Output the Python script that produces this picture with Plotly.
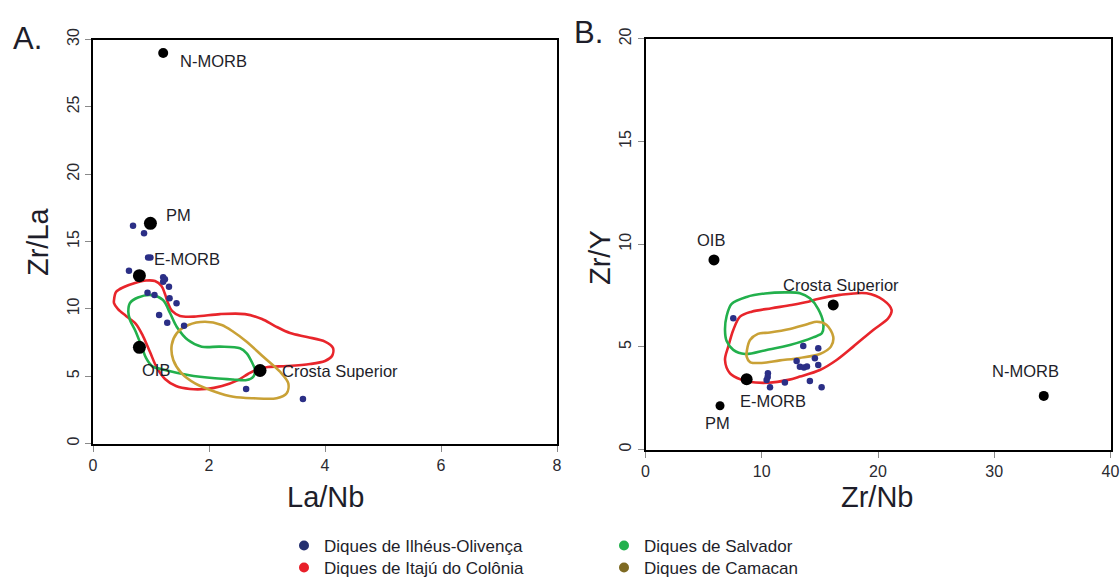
import plotly.graph_objects as go

# ---------------- Panel A: La/Nb vs Zr/La ----------------
ref_names_a = ["N-MORB", "PM", "E-MORB", "OIB", "Crosta Superior"]
ref_lanb = [1.21, 0.99, 0.80, 0.80, 2.88]
ref_zrla = [29.0, 16.35, 12.46, 7.14, 5.42]

ilheus_lanb = [0.69, 0.88, 0.95, 0.99, 0.62, 1.21, 1.21, 1.24, 1.31, 0.94, 1.06, 1.32, 1.44, 1.14, 1.28, 1.57, 2.64, 3.62]
ilheus_zrla = [16.17, 15.61, 13.82, 13.82, 12.83, 12.34, 12.01, 12.2, 11.64, 11.20, 11.02, 10.78, 10.41, 9.54, 8.97, 8.75, 4.05, 3.30]

itaju_a_x = [0.362, 0.397, 0.534, 0.724, 0.914, 1.069, 1.181, 1.241, 1.293, 1.362, 1.500, 1.776, 2.190, 2.621, 2.914, 3.138,
             3.397, 3.690, 4.000, 4.138, 4.121, 4.000, 3.741, 3.345, 3.017, 2.845, 2.672, 2.500, 2.224, 1.948, 1.672, 1.431,
             1.241, 1.103, 0.983, 0.862, 0.741, 0.569, 0.431, 0.362]
itaju_a_y = [10.65, 11.25, 11.62, 11.92, 12.10, 12.06, 11.69, 11.10, 10.43, 9.84, 9.47, 9.43, 9.61, 9.61, 9.24, 8.72,
             8.20, 7.91, 7.57, 7.09, 6.50, 6.13, 5.90, 5.75, 5.68, 5.53, 5.16, 4.71, 4.27, 4.05, 4.05, 4.27,
             4.79, 5.61, 6.79, 7.98, 8.87, 9.47, 9.98, 10.43]

salvador_a_x = [0.638, 0.776, 1.012, 1.207, 1.328, 1.443, 1.638, 1.874, 2.190, 2.534, 2.650, 2.736, 2.793, 2.764, 2.650,
                2.414, 2.103, 1.638, 1.241, 1.017, 0.914, 0.840, 0.724, 0.638, 0.609]
salvador_a_y = [10.43, 10.84, 11.02, 10.65, 9.69, 8.67, 7.68, 7.19, 7.19, 7.07, 6.70, 6.07, 5.45, 4.96, 4.71,
                4.75, 4.84, 5.09, 5.46, 5.75, 6.35, 7.19, 8.43, 9.17, 9.78]

camacan_a_x = [1.357, 1.443, 1.643, 1.931, 2.219, 2.419, 2.650, 2.936, 3.224, 3.367, 3.340, 3.167, 2.764, 2.419, 2.103,
               1.759, 1.529, 1.384]
camacan_a_y = [7.31, 8.18, 8.80, 9.04, 8.80, 8.30, 7.56, 6.44, 5.33, 4.47, 3.73, 3.36, 3.36, 3.47, 3.85,
               4.47, 5.21, 6.20]

# ---------------- Panel B: Zr/Nb vs Zr/Y ----------------
ref_names_b = ["OIB", "Crosta Superior", "E-MORB", "PM", "N-MORB"]
ref_zrnb = [5.89, 16.15, 8.70, 6.41, 34.26]
ref_zry = [9.23, 7.04, 3.42, 2.13, 2.61]

ilheus_zrnb = [7.55, 13.57, 14.86, 13.00, 14.57, 14.86, 13.28, 13.63, 13.89, 10.53, 10.51, 10.42, 11.99, 14.14, 10.71, 15.15]
ilheus_zry = [6.39, 5.04, 4.93, 4.31, 4.44, 4.12, 4.03, 3.99, 4.04, 3.71, 3.53, 3.39, 3.26, 3.34, 3.03, 3.03]

itaju_b_x = [8.27, 7.27, 6.84, 7.12, 7.55, 8.13, 9.13, 10.85, 12.57, 14.00, 14.72, 16.72, 19.02, 20.45, 21.17, 20.88,
             19.59, 17.87, 16.44, 15.00, 13.28, 12.28, 10.56, 8.84]
itaju_b_y = [3.39, 3.71, 4.36, 5.01, 5.82, 6.47, 6.71, 6.88, 7.04, 7.20, 7.32, 7.53, 7.61, 7.28, 6.79, 6.39,
             5.82, 5.01, 4.36, 3.87, 3.55, 3.39, 3.25, 3.30]

salvador_b_x = [6.84, 6.98, 7.41, 8.70, 10.28, 12.28, 13.28, 14.14, 14.86, 15.29, 15.18, 14.43, 12.42, 10.42, 8.56, 7.55, 6.98]
salvador_b_y = [5.82, 6.50, 7.09, 7.43, 7.60, 7.65, 7.61, 7.36, 6.84, 6.16, 5.67, 5.46, 5.09, 4.85, 4.65, 4.85, 5.28]

camacan_b_x = [8.73, 8.99, 9.67, 10.70, 12.42, 13.97, 14.75, 15.58, 16.15, 15.95, 15.00, 13.28, 11.56, 9.85, 8.99, 8.70]
camacan_b_y = [4.85, 5.33, 5.63, 5.70, 5.87, 6.11, 6.22, 6.06, 5.49, 5.01, 4.65, 4.46, 4.34, 4.21, 4.26, 4.52]

# legend entries
legend_names = ["Diques de Ilhéus-Olivença", "Diques de Itajú do Colônia", "Diques de Salvador", "Diques de Camacan"]

# ---------------- styles ----------------
FONT = "Liberation Sans, Arial, sans-serif"
C_BLUE = "#2b2f86"
C_RED = "#e8252b"
C_GREEN = "#22b04c"
C_GOLD = "#c9a136"
LEG_COLORS = ["#253070", "#e8202a", "#23b14d", "#7e6a23"]
LEG_POS = [(284, 546), (284, 568), (604, 546), (604, 568)]  # pixel anchor of each legend entry

ref_sizes_a = [10, 13, 13, 13, 13]
ref_sizes_b = [11, 11, 12, 9, 10]
# label placement offsets (pixels) relative to reference points
lab_a = {"N-MORB": (15, -8, "left"), "PM": (14, 8, "left"), "E-MORB": (13, 17, "left"),
         "OIB": (17, -23, "center"), "Crosta Superior": (20, 0, "left")}
lab_b = {"OIB": (-3, 20, "center"), "Crosta Superior": (-52, 20, "left"), "E-MORB": (-9, -22, "left"),
         "PM": (-3, -17, "center"), "N-MORB": (-18, 25, "center")}


def closed(xs, ys):
    return list(xs) + [xs[0]], list(ys) + [ys[0]]


fig = go.Figure()


def add_panel(xa, ya, rx, ry, rnames, rsizes, labs, bx, by, contours):
    for (cx, cy, col) in contours:
        X, Y = closed(cx, cy)
        fig.add_trace(go.Scatter(x=X, y=Y, mode="lines", xaxis=xa, yaxis=ya,
                                 line=dict(color=col, width=2.6, shape="spline", smoothing=0.9),
                                 showlegend=False, hoverinfo="skip"))
    fig.add_trace(go.Scatter(x=bx, y=by, mode="markers", xaxis=xa, yaxis=ya,
                             marker=dict(color=C_BLUE, size=6.5, opacity=1), showlegend=False))
    fig.add_trace(go.Scatter(x=rx, y=ry, mode="markers", xaxis=xa, yaxis=ya,
                             marker=dict(color="#000000", size=rsizes, opacity=1, line=dict(width=0)),
                             showlegend=False, text=rnames))
    for n, x, y in zip(rnames, rx, ry):
        dx, dy, anc = labs[n]
        fig.add_annotation(x=x, y=y, xref=xa, yref=ya, text=n, showarrow=False,
                           xshift=dx, yshift=dy, xanchor=anc, yanchor="middle",
                           font=dict(family=FONT, size=16.5, color="#1e1e2a"))


add_panel("x", "y", ref_lanb, ref_zrla, ref_names_a, ref_sizes_a, lab_a, ilheus_lanb, ilheus_zrla,
          [(itaju_a_x, itaju_a_y, C_RED), (salvador_a_x, salvador_a_y, C_GREEN), (camacan_a_x, camacan_a_y, C_GOLD)])
add_panel("x2", "y2", ref_zrnb, ref_zry, ref_names_b, ref_sizes_b, lab_b, ilheus_zrnb, ilheus_zry,
          [(itaju_b_x, itaju_b_y, C_RED), (salvador_b_x, salvador_b_y, C_GREEN), (camacan_b_x, camacan_b_y, C_GOLD)])

W, H = 1120, 579

# legend-only traces, one small legend per entry
legend_layouts = {}
for i, (name, col, (lx, ly)) in enumerate(zip(legend_names, LEG_COLORS, LEG_POS)):
    key = "legend" if i == 0 else f"legend{i + 1}"
    fig.add_trace(go.Scatter(x=[None], y=[None], mode="markers", name=name, legend=key,
                             marker=dict(color=col, size=10)))
    legend_layouts[key] = dict(x=lx / W, y=1 - ly / H, xanchor="left", yanchor="middle",
                               bgcolor="rgba(0,0,0,0)", borderwidth=0, itemwidth=30,
                               font=dict(family=FONT, size=17, color="#1e1e2a"))

axis_common = dict(showline=True, mirror=True, linecolor="black", linewidth=2, showgrid=False, zeroline=False,
                   ticks="outside", ticklen=6, tickwidth=1, tickcolor="#8a8a8a",
                   tickfont=dict(family=FONT, size=16, color="#2a2a30"), ticklabelstandoff=0)

fig.update_layout(
    width=W, height=H, margin=dict(l=0, r=0, t=0, b=0, autoexpand=False),
    paper_bgcolor="white", plot_bgcolor="white", showlegend=True,
    xaxis=dict(domain=[93 / W, 557 / W], range=[0, 8], tickvals=[0, 2, 4, 6, 8], **axis_common),
    yaxis=dict(domain=[1 - 443.5 / H, 1 - 39.5 / H], range=[0, 30], tickvals=[0, 5, 10, 15, 20, 25, 30],
               tickangle=-90, **axis_common),
    xaxis2=dict(domain=[645.5 / W, 1110.5 / W], range=[0, 40], tickvals=[0, 10, 20, 30, 40], anchor="y2",
                **axis_common),
    yaxis2=dict(domain=[1 - 449.5 / H, 1 - 38.8 / H], range=[0, 20], tickvals=[0, 5, 10, 15, 20], anchor="x2",
                tickangle=-90, **axis_common),
    **legend_layouts,
)

titles = [("Zr/La", 38, 242, -90), ("La/Nb", 325, 497, 0), ("Zr/Y", 600, 258, -90), ("Zr/Nb", 877, 497, 0)]
for t, px, py, ang in titles:
    fig.add_annotation(x=px / W, y=1 - py / H, xref="paper", yref="paper", text=t, showarrow=False,
                       textangle=ang, xanchor="center", yanchor="middle",
                       font=dict(family=FONT, size=29, color="#1e1e2a"))
for t, px, py in [("A.", 27, 38), ("B.", 588, 33)]:
    fig.add_annotation(x=px / W, y=1 - py / H, xref="paper", yref="paper", text=t, showarrow=False,
                       xanchor="center", yanchor="middle", font=dict(family=FONT, size=31, color="#1e1e2a"))

fig.write_html("out.html")
